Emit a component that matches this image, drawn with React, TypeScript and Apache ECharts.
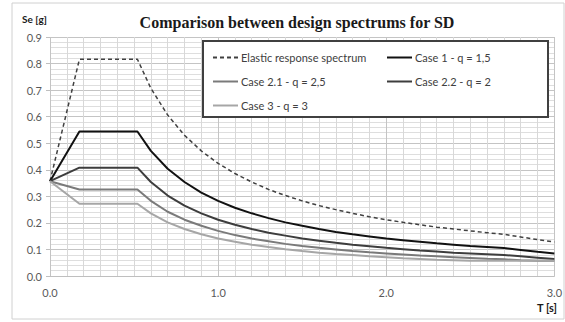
import React, { useEffect, useRef } from "react";
import * as echarts from "echarts";

const periods = [0, 0.175, 0.52, 0.6, 0.7, 0.8, 0.9, 1.0, 1.1, 1.2, 1.3, 1.4, 1.5, 1.6, 1.7, 1.8, 1.9, 2.0, 2.1, 2.2, 2.3, 2.4, 2.5, 2.6, 2.7, 2.8, 2.9, 3.0];
const elastic = [0.357, 0.816, 0.816, 0.707, 0.606, 0.530, 0.471, 0.424, 0.386, 0.354, 0.326, 0.303, 0.283, 0.265, 0.250, 0.236, 0.223, 0.212, 0.202, 0.193, 0.184, 0.177, 0.170, 0.163, 0.157, 0.147, 0.137, 0.128];
const case1 = [0.357, 0.544, 0.544, 0.471, 0.404, 0.354, 0.314, 0.283, 0.257, 0.236, 0.218, 0.202, 0.189, 0.177, 0.166, 0.157, 0.149, 0.141, 0.135, 0.129, 0.123, 0.118, 0.113, 0.109, 0.105, 0.098, 0.091, 0.085];
const case22 = [0.357, 0.408, 0.408, 0.354, 0.303, 0.265, 0.236, 0.212, 0.193, 0.177, 0.163, 0.152, 0.141, 0.133, 0.125, 0.118, 0.112, 0.106, 0.101, 0.096, 0.092, 0.088, 0.085, 0.082, 0.079, 0.074, 0.069, 0.064];
const case21 = [0.357, 0.326, 0.326, 0.283, 0.242, 0.212, 0.189, 0.170, 0.154, 0.141, 0.131, 0.121, 0.113, 0.106, 0.100, 0.094, 0.089, 0.085, 0.081, 0.077, 0.074, 0.071, 0.068, 0.065, 0.063, 0.059, 0.057, 0.057];
const case3 = [0.357, 0.272, 0.272, 0.236, 0.202, 0.177, 0.157, 0.141, 0.129, 0.118, 0.109, 0.101, 0.094, 0.088, 0.083, 0.079, 0.074, 0.071, 0.067, 0.064, 0.061, 0.059, 0.057, 0.057, 0.057, 0.057, 0.057, 0.057];

const names = {
  elastic: "Elastic response spectrum",
  c1: "Case 1 - q = 1,5",
  c21: "Case 2.1 - q = 2,5",
  c22: "Case 2.2 - q = 2",
  c3: "Case 3 - q = 3",
};

const FONT = "Lato, 'Open Sans', sans-serif";

function pairs(vals: number[]) {
  return periods.map((t, i) => [t, vals[i]]);
}

export default function App() {
  const ref = useRef<HTMLDivElement>(null);
  useEffect(() => {
    document.body.style.margin = "0";
    if (!ref.current) return;
    const chart = echarts.init(ref.current, null, { renderer: "svg" });
    const line = (name: string, data: number[], color: string, width: number, type: any = "solid") => ({
      name,
      type: "line",
      data: pairs(data),
      symbol: "none",
      smooth: false,
      lineStyle: { color, width, type },
      itemStyle: { color },
      z: 5,
    });
    const legendCommon = {
      top: 47,
      orient: "vertical",
      itemGap: 13,
      itemWidth: 25,
      itemHeight: 12,
      z: 10,
      itemStyle: { opacity: 0, borderWidth: 0 },
      textStyle: { fontFamily: FONT, fontSize: 11, color: "#404040", padding: [0, 0, 0, -2] },
    };
    chart.setOption({
      animation: false,
      backgroundColor: "#ffffff",
      title: {
        text: "Comparison between design spectrums for SD",
        left: 292,
        textAlign: "center",
        top: 9,
        textStyle: { fontFamily: "'Liberation Serif', serif", fontWeight: "bold", fontSize: 16, color: "#1a1a1a" },
      },
      grid: { left: 50, right: 9, top: 37, bottom: 46 },
      xAxis: {
        type: "value",
        min: 0,
        max: 3,
        interval: 1,
        axisLine: { show: true, lineStyle: { color: "#bfbfbf" } },
        axisTick: { show: false },
        axisLabel: { formatter: (v: number) => v.toFixed(1), color: "#595959", fontFamily: FONT, fontSize: 11, margin: 11 },
        splitLine: { show: true, lineStyle: { color: "#c4c4c4", width: 1 } },
        minorTick: { show: false, splitNumber: 10 },
        minorSplitLine: { show: true, lineStyle: { color: "#d8d8d8", width: 1 } },
      },
      yAxis: {
        type: "value",
        min: 0,
        max: 0.9,
        interval: 0.1,
        axisLine: { show: false },
        axisTick: { show: true, length: 4, lineStyle: { color: "#bfbfbf" } },
        axisLabel: { formatter: (v: number) => v.toFixed(1), color: "#595959", fontFamily: FONT, fontSize: 11, margin: 8 },
        splitLine: { show: true, lineStyle: { color: "#c4c4c4", width: 1 } },
        minorTick: { show: false, splitNumber: 5 },
        minorSplitLine: { show: true, lineStyle: { color: "#dedede", width: 1 } },
      },
      legend: [
        { ...legendCommon, left: 207, data: [names.elastic, names.c21, names.c3] },
        { ...legendCommon, left: 381, data: [names.c1, names.c22] },
      ],
      graphic: [
        {
          type: "rect",
          shape: { x: 12, y: 3, width: 552, height: 316 },
          style: { fill: "none", stroke: "#d0d0d0", lineWidth: 1 },
          z: 0,
        },
        {
          type: "rect",
          shape: { x: 203, y: 41, width: 345, height: 76 },
          style: { fill: "#ffffff", stroke: "#404040", lineWidth: 2 },
          z: 8,
        },
        {
          type: "text",
          x: 22,
          y: 14,
          style: { text: "Se [g]", font: "bold 10px " + FONT, fill: "#1a1a1a" },
          z: 10,
        },
        {
          type: "text",
          x: 537,
          y: 302,
          style: { text: "T [s]", font: "bold 11px " + FONT, fill: "#1a1a1a" },
          z: 10,
        },
      ],
      series: [
        line(names.elastic, elastic, "#404040", 1.5, [4, 3]),
        line(names.c1, case1, "#111111", 2),
        line(names.c21, case21, "#7a7a7a", 2),
        line(names.c22, case22, "#3d3d3d", 2),
        line(names.c3, case3, "#a6a6a6", 2),
      ],
    });
    return () => chart.dispose();
  }, []);
  return <div ref={ref} style={{ width: 565, height: 322 }} />;
}
